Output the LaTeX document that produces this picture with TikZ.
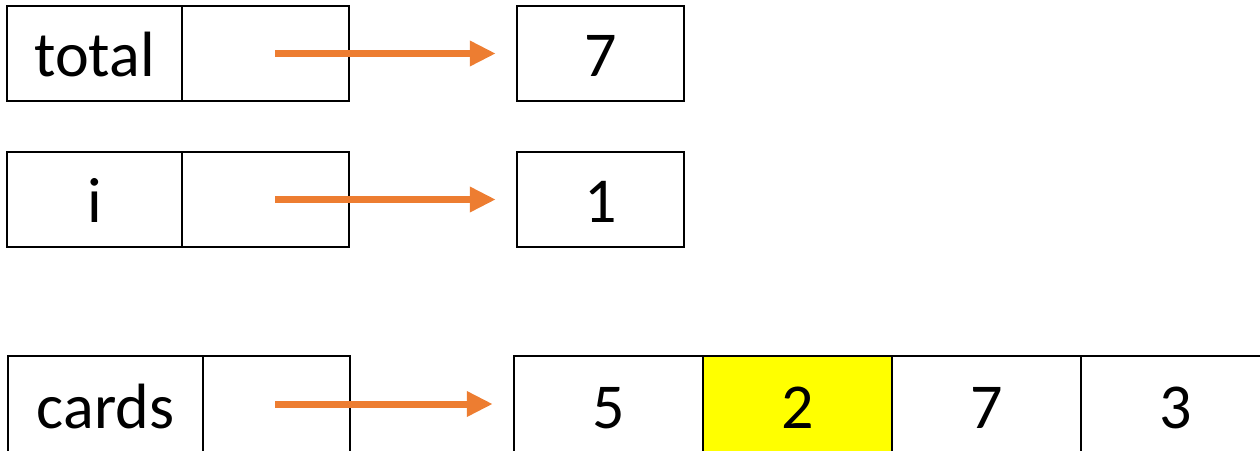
\documentclass[tikz,border=0pt]{standalone}
\usepackage{fontspec}
\setmainfont{Carlito}
\usetikzlibrary{arrows.meta}
\definecolor{arrorange}{HTML}{ED7D31}
\definecolor{hiyellow}{HTML}{FFFF00}
\begin{document}
\begin{tikzpicture}[x=1pt,y=-1pt,
  cell/.style={draw,line width=2.4pt,minimum height=95pt,inner sep=0pt,
    text height=45pt,text depth=0pt,font=\fontsize{64}{70}\selectfont},
  lowcell/.style={cell,minimum height=104pt,text height=41pt},
  ptr/.style={line width=7pt,draw=arrorange,fill=arrorange,
    -{Triangle[length=26pt,width=24pt]},shorten >=20pt}]
\useasboundingbox (0,0) rectangle (1260,450);
\clip (0,0) rectangle (1260,450);
% row 1
\node[cell,minimum width=175pt] (totalname) at (94.5,53.5) {total};
\node[cell,minimum width=167pt] (totalptr) at (265.5,53.5) {};
\node[cell,minimum width=167pt] (totalval) at (600.5,53.5) {7};
\coordinate (totalstart) at (275,53.5);
\draw[ptr] (totalstart) -- (totalval.west);
% row 2
\node[cell,minimum width=175pt] (iname) at (94.5,199.5) {i};
\node[cell,minimum width=167pt] (iptr) at (265.5,199.5) {};
\node[cell,minimum width=167pt] (ival) at (600.5,199.5) {1};
\coordinate (istart) at (275,199.5);
\draw[ptr] (istart) -- (ival.west);
% row 3
\node[lowcell,minimum width=195pt] (cardsname) at (105.5,408) {cards};
\node[lowcell,minimum width=147pt] (cardsptr) at (276.5,408) {};
\node[lowcell,minimum width=189pt] (c0) at (608.5,408) {5};
\node[lowcell,minimum width=189pt,fill=hiyellow] (c1) at (797.5,408) {2};
\node[lowcell,minimum width=189pt] (c2) at (986.5,408) {7};
\node[lowcell,minimum width=189pt] (c3) at (1175.5,408) {3};
\coordinate (cardsstart) at (275,404);
\draw[ptr] (cardsstart) -- (cardsstart -| c0.west);
\end{tikzpicture}
\end{document}
